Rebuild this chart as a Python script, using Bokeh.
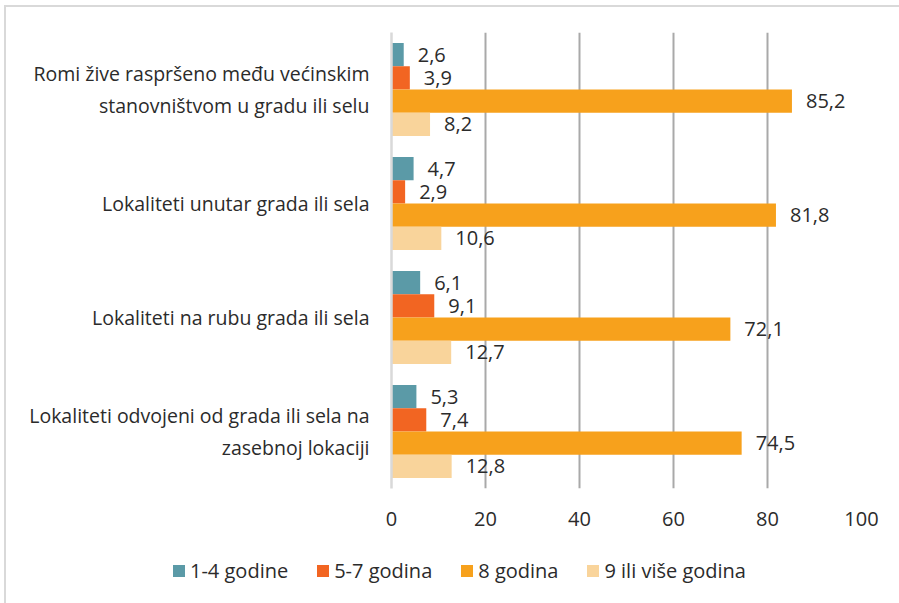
from bokeh.plotting import figure
from bokeh.layouts import column
from bokeh.models import ColumnDataSource, FactorRange, Range1d, FixedTicker, Div
from bokeh.transform import dodge
from bokeh.core.properties import value
from bokeh.embed import file_html
from bokeh.resources import INLINE

categories = [
    "Romi žive raspršeno među većinskim\nstanovništvom u gradu ili selu",
    "Lokaliteti unutar grada ili sela",
    "Lokaliteti na rubu grada ili sela",
    "Lokaliteti odvojeni od grada ili sela na\nzasebnoj lokaciji",
]
series_names = ["1-4 godine", "5-7 godina", "8 godina", "9 ili više godina"]
v_1_4 = [2.6, 4.7, 6.1, 5.3]
v_5_7 = [3.9, 2.9, 9.1, 7.4]
v_8 = [85.2, 81.8, 72.1, 74.5]
v_9 = [8.2, 10.6, 12.7, 12.8]
x_ticks = [0, 20, 40, 60, 80, 100]

colors = ["#5B9AA7", "#F26522", "#F7A11C", "#F9D49B"]
offsets = [0.306, 0.102, -0.102, -0.306]
FONT = "Open Sans"
TXT = "#2B2B2B"

W = 887
p = figure(width=W, height=538, output_backend="svg", toolbar_location=None,
           y_range=FactorRange(factors=categories[::-1], range_padding=0, factor_padding=0),
           x_range=Range1d(0, 100))
p.min_border_left = 385
p.min_border_right = 32
p.min_border_top = 25
p.min_border_bottom = 57
p.outline_line_color = None

all_vals = [v_1_4, v_5_7, v_8, v_9]
for name, vals, col, off in zip(series_names, all_vals, colors, offsets):
    src = ColumnDataSource(dict(cat=categories, v=vals,
                                lab=[f"{x:.1f}".replace(".", ",") for x in vals]))
    p.hbar(y=dodge("cat", off, range=p.y_range), right="v", left=0, height=0.204,
           source=src, fill_color=col, line_color=None)
    p.text(x="v", y=dodge("cat", off, range=p.y_range), text="lab", source=src,
           x_offset=14, text_baseline="middle", text_align="left",
           text_font=value(FONT), text_font_size="20px", text_color=TXT)

p.xaxis.ticker = FixedTicker(ticks=x_ticks)
p.xaxis.axis_line_color = None
p.xaxis.major_tick_line_color = None
p.xaxis.minor_tick_line_color = None
p.xaxis.major_tick_out = 0
p.xaxis.major_tick_in = 0
p.xaxis.major_label_text_font = FONT
p.xaxis.major_label_text_font_size = "20px"
p.xaxis.major_label_text_color = TXT
p.xaxis.major_label_standoff = 23

p.yaxis.axis_line_color = "#D9D9D9"
p.yaxis.axis_line_width = 2.5
p.yaxis.major_tick_line_color = None
p.yaxis.minor_tick_line_color = None
p.yaxis.major_tick_out = 0
p.yaxis.major_tick_in = 0
p.yaxis.major_label_text_font = FONT
p.yaxis.major_label_text_font_size = "19.5px"
p.yaxis.major_label_text_color = TXT
p.yaxis.major_label_standoff = 22

p.xgrid.grid_line_color = "#A9A9A9"
p.xgrid.grid_line_width = 2
p.ygrid.grid_line_color = None

# legend row (HTML text)
item_html = "".join(
    f'<span style="display:inline-flex;align-items:center;margin-right:29px;">'
    f'<span style="display:inline-block;width:12px;height:12px;background:{c};margin-right:5px;"></span>'
    f'{n}</span>'
    for n, c in zip(series_names, colors)
)
leg = Div(text=item_html, width=W, height=48,
          styles={"font-family": f"'{FONT}'", "font-size": "20px", "color": TXT,
                  "display": "flex", "align-items": "center", "padding-left": "162px",
                  "padding-bottom": "7px",
                  "white-space": "nowrap", "box-sizing": "border-box"})

layout = column(p, leg, spacing=0,
                styles={"border": "2px solid #D9D9D9", "margin-left": "4px", "margin-top": "5px"})

open("out.html", "w").write(file_html(layout, INLINE))
